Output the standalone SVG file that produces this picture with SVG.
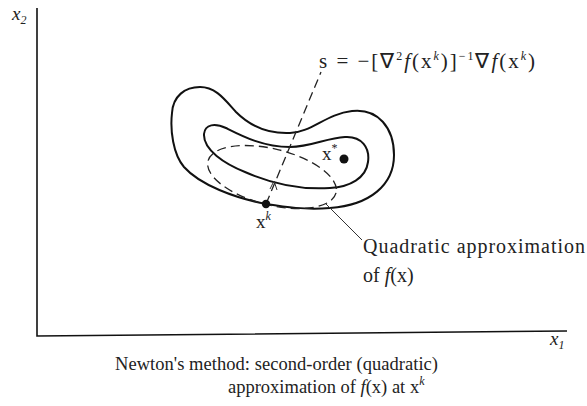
<svg xmlns="http://www.w3.org/2000/svg" width="587" height="406" viewBox="0 0 587 406">
<style>
text{font-family:"Liberation Serif","Times New Roman",serif;fill:#222;font-size:19px}
.big{font-size:21px}
.mid{font-size:20px}
.cap{font-size:18.5px}
.it{font-style:italic}
.sup{font-size:12px}
.axis{stroke:#111;stroke-width:1.6;fill:none}
.contour{stroke:#111;stroke-width:2;fill:none}
.dash{stroke:#222;stroke-width:1.3;fill:none;stroke-dasharray:9 5}
.thin{stroke:#333;stroke-width:1;fill:none}
</style>
<rect width="587" height="406" fill="#fff"/>
<g id="axes">
<path class="axis" d="M37,8 L37,336 L567,331"/>
<text x="12" y="20" class="it">x<tspan class="sup" dy="4">2</tspan></text>
<text x="550" y="345" class="it">x<tspan class="sup" dy="4">1</tspan></text>
</g>
<g id="outer-contour">
<path class="contour" d="M172,113 C173,96 185,87 200,87 C216,87 225,100 236,112 C251,127 268,134 290,133 C312,132 326,114 352,111 C378,108 394,128 394,155 C394,185 370,205 330,208 C305,210 285,207 266,204 C235,198 200,185 184,167 C173,154 170,130 172,113 Z"/>
</g>
<g id="inner-contour">
<path class="contour" d="M204,134 C205,124 215,123 226,128 C242,136 263,147 290,147 C311,147 326,138 345,137 C362,136 370,148 368,162 C366,178 350,187 330,188 C300,190 270,183 245,172 C225,164 203,150 204,134 Z"/>
</g>
<g id="quadratic-approx">
<ellipse class="dash" cx="272" cy="177" rx="66" ry="28" transform="rotate(14 272 177)"/>
</g>
<g id="connectors">
<path class="dash" d="M266,204 L321,72"/>
<path class="thin" d="M270,189 L274,181 L277,190"/>
<path class="thin" d="M325,203 L362,240"/>
</g>
<g id="xk">
<circle cx="266" cy="204" r="4.2" fill="#111"/>
<text x="256" y="228">x<tspan class="sup it" dy="-8">k</tspan></text>
</g>
<g id="xstar">
<circle cx="344" cy="159" r="4.5" fill="#111"/>
<text x="322" y="160">x<tspan class="sup" dy="-8" font-size="15">*</tspan></text>
</g>
<g id="formula">
<text class="big" x="319" y="68" textLength="216" lengthAdjust="spacing">s = −[∇<tspan class="sup" dy="-8">2</tspan><tspan class="it" dy="8">f</tspan>(x<tspan class="sup it" dy="-8">k</tspan><tspan dy="8">)]</tspan><tspan class="sup" dy="-8">−1</tspan><tspan dy="8">∇</tspan><tspan class="it">f</tspan>(x<tspan class="sup it" dy="-8">k</tspan><tspan dy="8">)</tspan></text>
</g>
<g id="label-quadratic">
<text class="mid" x="363" y="253" textLength="222" lengthAdjust="spacing">Quadratic approximation</text>
<text class="mid" x="363" y="282">of <tspan class="it">f</tspan>(x)</text>
</g>
<g id="caption">
<text class="cap" x="115" y="370" textLength="323" lengthAdjust="spacing">Newton's method: second-order (quadratic)</text>
<text class="cap" x="228" y="393">approximation of <tspan class="it">f</tspan>(x) at x<tspan class="sup it" dy="-8">k</tspan></text>
</g>
</svg>
